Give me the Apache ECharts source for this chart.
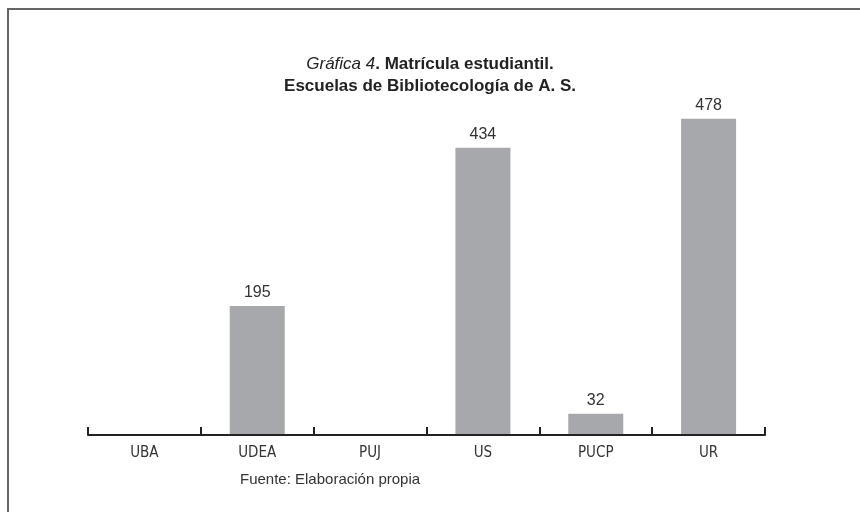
<!DOCTYPE html>
<html lang="es" style="height: 100%">

<head>
  <meta charset="utf-8" />
</head>

<body style="height: 100%; margin: 0; background: #fff">
  <div id="container" style="width: 860px; height: 512px"></div>

  <script type="text/javascript" src="https://fastly.jsdelivr.net/npm/echarts@6.0.0/dist/echarts.min.js"></script>

  <script type="text/javascript">
    // datos de la gráfica
    var escuelas = ["UBA", "UDEA", "PUJ", "US", "PUCP", "UR"];
    var matricula = [null, 195, null, 434, 32, 478];

    var dom = document.getElementById("container");
    var myChart = echarts.init(dom, null, { renderer: "canvas" });
    var option;

    option = {
      animation: false,
      title: {
        text: "{it|Gráfica 4}{b|. Matrícula estudiantil.}\n{b|Escuelas de Bibliotecología de A. S.}",
        left: "center",
        top: 48,
        textStyle: {
          fontWeight: "normal",
          rich: {
            it: {
              fontFamily: "Liberation Sans, Arial, sans-serif",
              fontStyle: "italic",
              fontWeight: "normal",
              fontSize: 17,
              color: "#222",
              lineHeight: 22
            },
            b: {
              fontFamily: "Liberation Sans, Arial, sans-serif",
              fontWeight: "bold",
              fontSize: 17,
              color: "#222",
              lineHeight: 22
            }
          }
        }
      },
      graphic: [
        {
          type: "polyline",
          shape: { points: [[8, 512], [8, 9], [860, 9]] },
          style: { stroke: "#666", lineWidth: 2, fill: null }
        },
        {
          type: "text",
          left: 240,
          top: 472,
          style: {
            text: "Fuente: Elaboración propia",
            font: "15px 'Liberation Sans', Arial, sans-serif",
            fill: "#333"
          }
        }
      ],
      grid: {
        left: 88,
        right: 95,
        top: 38,
        bottom: 77
      },
      xAxis: {
        type: "category",
        data: escuelas,
        boundaryGap: true,
        z: 5,
        axisLine: { show: true, lineStyle: { color: "#222", width: 2 } },
        axisTick: {
          show: true,
          inside: true,
          interval: 0,
          alignWithLabel: false,
          length: 8,
          lineStyle: { color: "#222", width: 2 }
        },
        axisLabel: {
          margin: 11,
          fontSize: 15,
          color: "#333",
          fontFamily: "'DejaVu Sans Condensed', 'Liberation Sans Narrow', sans-serif"
        }
      },
      yAxis: {
        type: "value",
        min: 0,
        max: 600,
        show: false
      },
      series: [
        {
          type: "bar",
          data: matricula,
          barWidth: 55,
          itemStyle: { color: "#a7a8ab" },
          label: {
            show: true,
            position: "top",
            distance: 5,
            fontSize: 16,
            color: "#333",
            fontFamily: "'Liberation Sans', Arial, sans-serif"
          }
        }
      ]
    };

    myChart.setOption(option);
    window.addEventListener("resize", myChart.resize);
  </script>
</body>

</html>
